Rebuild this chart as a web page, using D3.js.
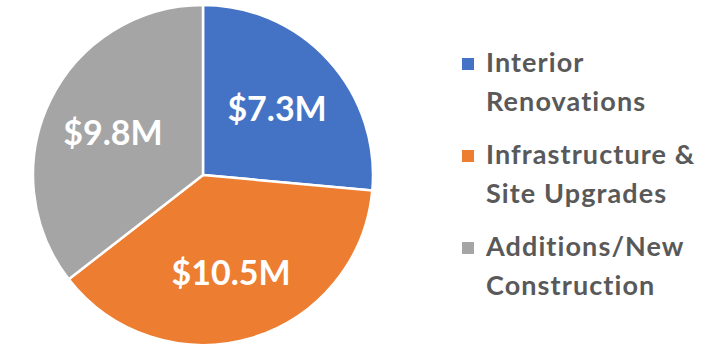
<!DOCTYPE html>
<html>
<head>
<meta charset="utf-8">
<script src="https://cdn.jsdelivr.net/npm/d3@7"></script>
<style>
  html, body { margin: 0; padding: 0; background: #fff; }
  svg { display: block; }
</style>
</head>
<body>
<svg id="chart" width="725" height="348"></svg>
<script>
// Budget split by project type (millions of dollars)
const categories = ["Interior Renovations", "Infrastructure & Site Upgrades", "Additions/New Construction"];
const legendLines = [["Interior", "Renovations"], ["Infrastructure &", "Site Upgrades"], ["Additions/New", "Construction"]];
const values = [7.3, 10.5, 9.8];
const valueLabels = ["$7.3M", "$10.5M", "$9.8M"];
const colors = ["#4472C4", "#ED7D31", "#A5A5A5"];

const svg = d3.select("#chart");
const cx = 203, cy = 175, radius = 170;
const font = "Lato, 'Open Sans', sans-serif";

const pie = d3.pie().sort(null).value(d => d)(values);
const arc = d3.arc().innerRadius(0).outerRadius(radius);
const labelArc = d3.arc().innerRadius(radius * 0.59).outerRadius(radius * 0.59);

const g = svg.append("g").attr("transform", `translate(${cx},${cy})`);

g.selectAll("path.slice")
  .data(pie)
  .join("path")
  .attr("class", "slice")
  .attr("d", arc)
  .attr("fill", (d, i) => colors[i])
  .attr("stroke", "#fff")
  .attr("stroke-width", 2.5)
  .attr("stroke-linejoin", "round");

g.selectAll("text.value")
  .data(pie)
  .join("text")
  .attr("class", "value")
  .attr("transform", d => { const [x, y] = labelArc.centroid(d); return `translate(${x},${y})`; })
  .attr("text-anchor", "middle")
  .attr("dy", "0.4em")
  .attr("fill", "#fff")
  .attr("font-family", font)
  .attr("font-weight", "bold")
  .attr("font-size", 34)
  .text((d, i) => valueLabels[i]);

// Legend
const legend = svg.append("g").attr("transform", "translate(462,0)");
const itemY = d3.scaleOrdinal().domain(categories).range([72, 164, 256]);

const items = legend.selectAll("g.item")
  .data(categories)
  .join("g")
  .attr("class", "item")
  .attr("transform", d => `translate(0,${itemY(d)})`);

items.append("rect")
  .attr("x", 0).attr("y", -14)
  .attr("width", 12).attr("height", 12)
  .attr("fill", (d, i) => colors[i]);

items.append("text")
  .attr("x", 24)
  .attr("fill", "#595959")
  .attr("font-family", font)
  .attr("font-weight", "bold")
  .attr("font-size", 27)
  .attr("letter-spacing", 1.1)
  .selectAll("tspan")
  .data((d, i) => legendLines[i])
  .join("tspan")
  .attr("x", 24)
  .attr("dy", (d, j) => j === 0 ? 0 : 39)
  .text(d => d);
</script>
</body>
</html>
